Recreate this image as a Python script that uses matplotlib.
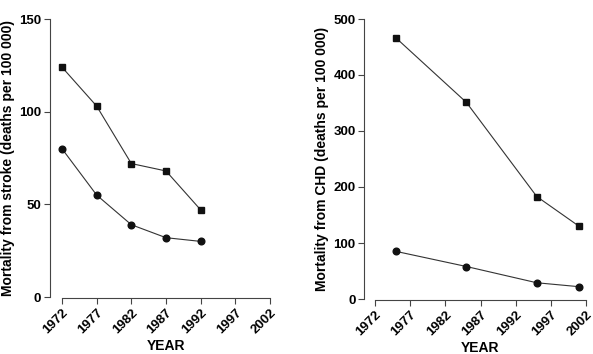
import numpy as np
import matplotlib.pyplot as plt

plt.rcParams['font.family'] = ['Liberation Sans', 'DejaVu Sans']
plt.rcParams['font.weight'] = 'bold'

# Stroke panel
stroke_years = [1972, 1977, 1982, 1987, 1992]
stroke_sq = [124, 103, 72, 68, 47]
stroke_ci = [80, 55, 39, 32, 30]

# CHD panel
chd_years = [1975, 1985, 1995, 2001]
chd_sq = [466, 351, 183, 130]
chd_ci = [85, 58, 29, 22]

year_ticks = [1972, 1977, 1982, 1987, 1992, 1997, 2002]

fig = plt.figure(figsize=(5.93, 3.54), dpi=100)
ax1 = fig.add_axes([62/593, 57/354, 208/593, 278/354])
ax2 = fig.add_axes([375/593, 55/354, 211/593, 280/354])


def style(ax, ylim, yticks, ylabel, left_off):
    ax.set_xlim(1972, 2002)
    ax.set_ylim(*ylim)
    ax.set_xticks(year_ticks)
    ax.set_yticks(yticks)
    ax.spines['top'].set_visible(False)
    ax.spines['right'].set_visible(False)
    ax.spines['left'].set_position(('outward', left_off))
    ax.spines['bottom'].set_position(('outward', 1))
    for s in ('left', 'bottom'):
        ax.spines[s].set_linewidth(0.8)
        ax.spines[s].set_color('#444444')
    ax.tick_params(length=4, width=0.8, color='#444444', pad=2, labelsize=9.5)
    ax.tick_params(axis='x', labelrotation=45)
    for lab in ax.get_xticklabels():
        lab.set_ha('right')
        lab.set_rotation_mode('anchor')
        lab.set_fontweight('bold')
    for lab in ax.get_yticklabels():
        lab.set_fontweight('bold')
    ax.set_xlabel('YEAR', fontsize=10, fontweight='bold', labelpad=2)
    ax.set_ylabel(ylabel, fontsize=10, fontweight='bold', labelpad=3)
    ax.patch.set_visible(False)


for ax, yrs, sq, ci in [(ax1, stroke_years, stroke_sq, stroke_ci),
                        (ax2, chd_years, chd_sq, chd_ci)]:
    ax.plot(yrs, sq, color='#333333', lw=0.8, marker='s', ms=4.8,
            mfc='#111111', mec='#111111', clip_on=False)
    ax.plot(yrs, ci, color='#333333', lw=0.8, marker='o', ms=4.8,
            mfc='#111111', mec='#111111', clip_on=False)

style(ax1, (0, 150), [0, 50, 100, 150],
      'Mortality from stroke (deaths per 100 000)', 9)
style(ax2, (0, 500), [0, 100, 200, 300, 400, 500],
      'Mortality from CHD (deaths per 100 000)', 8)

fig.savefig('out.png', dpi=100)
